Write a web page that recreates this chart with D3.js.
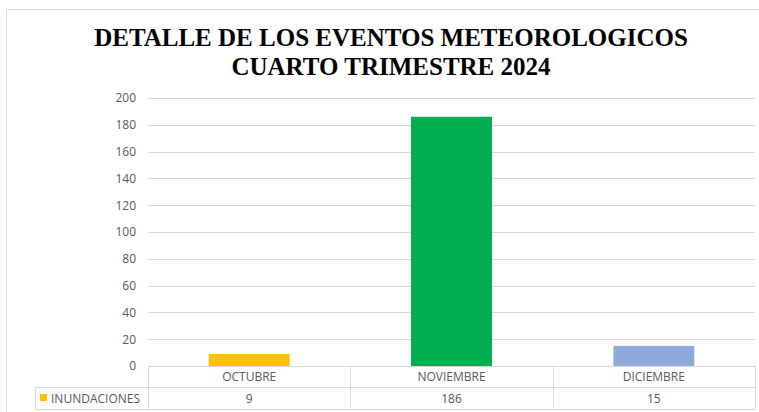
<!DOCTYPE html>
<html>
<head>
<meta charset="utf-8">
<script src="https://cdn.jsdelivr.net/npm/d3@7"></script>
<style>
  body { margin: 0; background: #fff; }
  svg { display: block; }
</style>
</head>
<body>
<div id="chart"></div>
<script>
// datos del gráfico
const meses = ["OCTUBRE", "NOVIEMBRE", "DICIEMBRE"];
const inundaciones = [9, 186, 15];
const colores = ["#FFC000", "#00B050", "#8EA9DB"];
const serie = "INUNDACIONES";
const ticksY = [0, 20, 40, 60, 80, 100, 120, 140, 160, 180, 200];
const titulo = ["DETALLE DE LOS EVENTOS METEOROLOGICOS", "CUARTO TRIMESTRE 2024"];

const width = 759, height = 412;
const margin = { left: 148, right: 4, top: 98, bottom: 46 };
const plotRight = width - margin.right;   // 755
const plotBottom = height - margin.bottom; // 366

const svg = d3.select("#chart").append("svg")
    .attr("width", width)
    .attr("height", height);

// marco del gráfico
svg.append("path")
    .attr("d", `M6.5,${height} V9.5 H${width}`)
    .attr("fill", "none")
    .attr("stroke", "#d9d9d9")
    .attr("stroke-width", 1);

// título
svg.append("g")
    .selectAll("text")
    .data(titulo)
    .enter().append("text")
    .attr("x", 391)
    .attr("y", (d, i) => 46 + i * 29)
    .attr("text-anchor", "middle")
    .style("font-family", "'Liberation Serif', 'Times New Roman', serif")
    .style("font-weight", "bold")
    .style("font-size", "25px")
    .attr("fill", "#000")
    .text(d => d);

const x = d3.scaleBand()
    .domain(meses)
    .range([margin.left, plotRight])
    .paddingInner(0.6)
    .paddingOuter(0.3);

const y = d3.scaleLinear()
    .domain([0, 200])
    .range([plotBottom, margin.top]);

// líneas de cuadrícula
svg.append("g")
    .selectAll("line")
    .data(ticksY.filter(d => d > 0))
    .enter().append("line")
    .attr("x1", margin.left)
    .attr("x2", plotRight)
    .attr("y1", d => Math.round(y(d)) + 0.5)
    .attr("y2", d => Math.round(y(d)) + 0.5)
    .attr("stroke", "#d9d9d9")
    .attr("stroke-width", 1);

// eje Y
const yAxis = svg.append("g")
    .attr("transform", `translate(${margin.left - 12},0)`)
    .call(d3.axisLeft(y).tickValues(ticksY).tickSize(0).tickPadding(0));
yAxis.select(".domain").remove();
yAxis.selectAll("text")
    .style("font-family", "'Open Sans', 'Noto Sans', sans-serif")
    .style("font-size", "12px")
    .attr("fill", "#595959");

// barras
svg.append("g")
    .selectAll("rect")
    .data(meses)
    .enter().append("rect")
    .attr("x", d => x(d))
    .attr("width", x.bandwidth())
    .attr("y", (d, i) => y(inundaciones[i]))
    .attr("height", (d, i) => plotBottom - y(inundaciones[i]))
    .attr("fill", (d, i) => colores[i]);

// tabla de datos
const step = x.step();
const rowTop = plotBottom, rowMid = 387, rowBottom = 409;
const tabla = svg.append("g")
    .attr("fill", "none")
    .attr("stroke", "#d9d9d9")
    .attr("stroke-width", 1);

tabla.append("path")
    .attr("d", `M${margin.left + 0.5},${rowTop + 0.5} H${plotRight + 0.5} V${rowBottom + 0.5} H35.5 V${rowMid + 0.5} H${plotRight + 0.5}`);

tabla.selectAll("line")
    .data(d3.range(meses.length + 1))
    .enter().append("line")
    .attr("x1", i => Math.round(margin.left + i * step) + 0.5)
    .attr("x2", i => Math.round(margin.left + i * step) + 0.5)
    .attr("y1", i => (i === 0 || i === meses.length) ? rowTop : rowTop)
    .attr("y2", rowBottom);

const fuenteTabla = "'Open Sans', 'Noto Sans', sans-serif";

svg.append("g")
    .selectAll("text")
    .data(meses)
    .enter().append("text")
    .attr("x", d => x(d) + x.bandwidth() / 2)
    .attr("y", 381)
    .attr("text-anchor", "middle")
    .style("font-family", fuenteTabla)
    .style("font-size", "12px")
    .attr("fill", "#595959")
    .text(d => d);

svg.append("g")
    .selectAll("text")
    .data(inundaciones)
    .enter().append("text")
    .attr("x", (d, i) => x(meses[i]) + x.bandwidth() / 2)
    .attr("y", 403)
    .attr("text-anchor", "middle")
    .style("font-family", fuenteTabla)
    .style("font-size", "12px")
    .attr("fill", "#595959")
    .text(d => d);

// leyenda en la tabla
svg.append("rect")
    .attr("x", 40)
    .attr("y", 394)
    .attr("width", 7)
    .attr("height", 7)
    .attr("fill", colores[0]);

svg.append("text")
    .attr("x", 51)
    .attr("y", 403)
    .style("font-family", fuenteTabla)
    .style("font-size", "12px")
    .attr("fill", "#595959")
    .text(serie);
</script>
</body>
</html>
